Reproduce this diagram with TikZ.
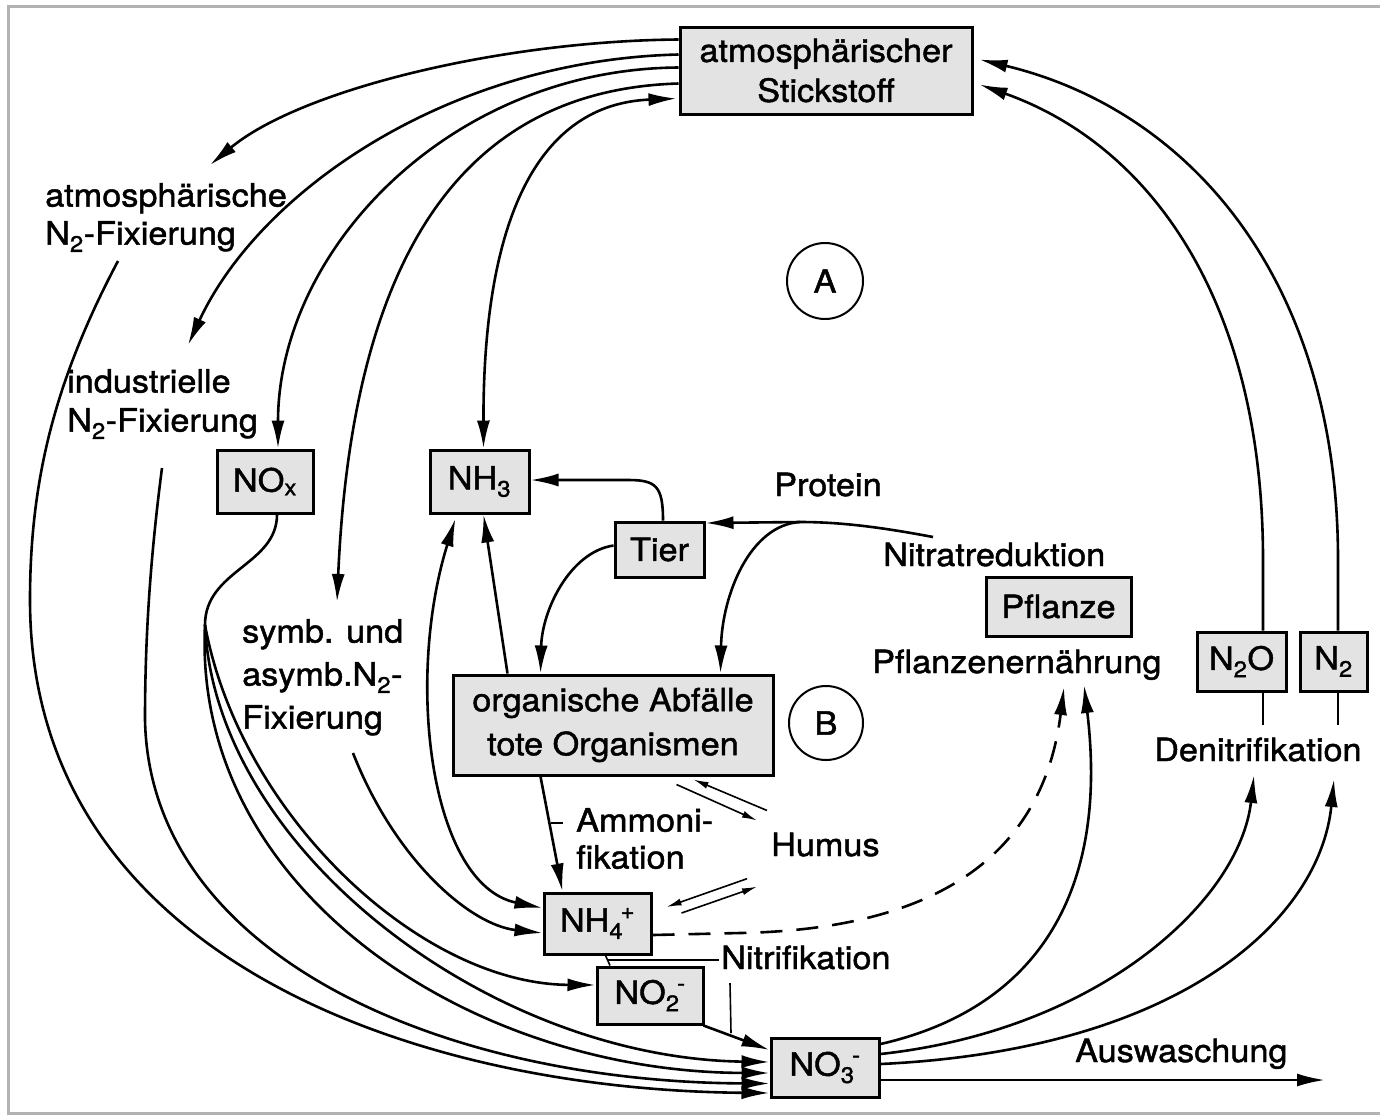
\documentclass[tikz,border=0pt]{standalone}
\usepackage{fontspec}
\setmainfont{TeX Gyre Heros}[FakeStretch=1.07,FakeBold=1.4]
\usetikzlibrary{arrows.meta,calc}
\newcommand{\lfont}{\fontsize{32}{39}\selectfont}
\newcommand{\ionx}[2]{\textsubscript{#1}\kern-0.08em\raisebox{0.12em}{\textsuperscript{#2}}}
\begin{document}
\begin{tikzpicture}[x=1pt,y=-1pt,
  ln/.style={line width=2.6pt},
  arr/.style={ln, -{Latex[length=28pt,width=13pt]}},
  arrb/.style={ln, {Latex[length=28pt,width=13pt]}-{Latex[length=28pt,width=13pt]}},
  thinarr/.style={line width=1.6pt, -{Latex[length=15pt,width=7pt]}},
  thinln/.style={line width=1.6pt},
  box/.style={draw, line width=3pt, fill=gray!22, inner sep=0pt, align=center, font=\lfont},
  lbl/.style={inner sep=0pt, font=\lfont},
  ring/.style={circle, draw, line width=2pt, minimum size=76pt, inner sep=0pt, font=\lfont}]
\useasboundingbox (0,0) rectangle (1380,1117);
\draw[gray!60, line width=3pt] (1380,6) -- (8,6) -- (8,1113) -- (1380,1113);

% boxes
\node[box, minimum width=292pt, minimum height=87pt, font=\fontsize{32}{40}\selectfont] (atm) at (826,70.5) {atmosphärischer\\Stickstoff};
\node[box, minimum width=96pt, minimum height=63pt] (NOx) at (265,481.5) {NO\textsubscript{x}};
\node[box, minimum width=99pt, minimum height=63pt] (NH3) at (479.5,481.5) {NH\textsubscript{3}};
\node[box, minimum width=89pt, minimum height=55pt] (Tier) at (659.5,549.5) {Tier};
\node[box, minimum width=145pt, minimum height=59pt] (Pfl) at (1058.5,606.5) {Pflanze};
\node[box, minimum width=320pt, minimum height=100pt, font=\fontsize{32}{44}\selectfont] (org) at (613,725) {organische Abfälle\\tote Organismen};
\node[box, minimum width=89pt, minimum height=59pt] (N2O) at (1241.5,661.5) {N\textsubscript{2}O};
\node[box, minimum width=67pt, minimum height=59pt] (N2) at (1333.5,661.5) {N\textsubscript{2}};
\node[box, minimum width=107pt, minimum height=61pt] (NH4) at (597.5,923.5) {NH\ionx{4}{+}};
\node[box, minimum width=106pt, minimum height=57pt] (NO2) at (650,995.5) {NO\ionx{2}{-}};
\node[box, minimum width=108pt, minimum height=59pt] (NO3) at (825,1067.5) {NO\ionx{3}{-}};

% circles
\node[ring] (A) at (825,281) {A};
\node[ring, minimum size=74pt] (B) at (826,723) {B};

% labels
\node[lbl, anchor=north west, align=left, font=\fontsize{32}{38}\selectfont] (atmfix) at (45,183) {atmosphärische\\N\textsubscript{2}-Fixierung};
\node[lbl, anchor=north west, align=left] (indfix) at (67,369) {industrielle\\N\textsubscript{2}-Fixierung};
\node[lbl, anchor=north west, align=left, font=\fontsize{32}{43}\selectfont] (symb) at (242,619) {symb. und\\asymb.N\textsubscript{2}-\\Fixierung};
\node[lbl, anchor=base west] (prot) at (774,496) {Protein};
\node[lbl, anchor=base west] (nred) at (883,566) {Nitratreduktion};
\node[lbl, anchor=base west] (pfern) at (872,673) {Pflanzenernährung};
\node[lbl, anchor=north west, align=left, font=\fontsize{32}{37}\selectfont] (ammon) at (576,808) {Ammoni-\\fikation};
\node[lbl, anchor=base west] (humus) at (771,856) {Humus};
\node[lbl, anchor=base west] (nitr) at (721,969) {Nitrifikation};
\node[lbl, anchor=base west] (denitr) at (1154,761) {Denitrifikation};
\node[lbl, anchor=base west] (ausw) at (1075,1062) {Auswaschung};

% free ends
\coordinate (atmtip) at (210,165);
\coordinate (indtip) at (188,345);
\coordinate (symbtip) at (337,602);
\coordinate (atmstart) at (118,261);
\coordinate (indstart) at (162,468);
\coordinate (symbstart) at (353,753);
\coordinate (J) at (205,625);
\coordinate (protstart) at (933,537);
\coordinate (fork) at (800,522);
\coordinate (pftipA) at (1064,687);
\coordinate (pftipB) at (1084,685);
\coordinate (dntipA) at (1254,775);
\coordinate (dntipB) at (1334,779);
\coordinate (auswtip) at (1325,1080);

% from atmospheric nitrogen, left side
\draw[arr] ($(atm.north west)+(0,14)$) .. controls (500,41) and (300,90) .. (atmtip);
\draw[arr] ($(atm.north west)+(0,29)$) .. controls (450,60) and (260,190) .. (indtip);
\draw[arr] ($(atm.north west)+(0,42)$) .. controls (450,69) and (278,250) .. ($(NOx.north)+(13,0)$);
\draw[arr] ($(atm.north west)+(0,58)$) .. controls (460,90) and (352,260) .. (symbtip);
\draw[arrb] ($(NH3.north)+(4,0)$) .. controls (483,215) and (540,104) .. ($(atm.north west)+(-2,73)$);

% right side back to atmosphere
\draw[arr] ($(N2O.north)+(21.5,0)$) -- (1263,560) .. controls (1263,300) and (1150,145) .. ($(atm.north east)+(6,59)$);
\draw[arr] ($(N2.north)+(4.5,0)$) -- (1338,560) .. controls (1338,280) and (1190,110) .. ($(atm.north east)+(6,34)$);
\draw[ln] ($(N2O.south)+(21.5,0)$) -- ++(0,32);
\draw[ln] ($(N2.south)+(4.5,0)$) -- ++(0,32);

% big left arcs into nitrate
\draw[arr] (atmstart) .. controls (55,380) and (30,480) .. (30,600) .. controls (30,960) and (420,1090) .. ($(NO3.west)+(0,25.5)$);
\draw[arr] (indstart) .. controls (150,560) and (145,640) .. (145,720) .. controls (150,960) and (450,1082) .. ($(NO3.west)+(0,16)$);
\draw[ln] ($(NOx.south)+(12,0)$) .. controls (277,565) and (205,570) .. (J);
\draw[arr] (J) .. controls (192,890) and (470,1072) .. ($(NO3.west)+(0,5.5)$);
\draw[arr] (J) .. controls (215,850) and (490,1058) .. ($(NO3.west)+(0,-5.5)$);
\draw[arr] (J) .. controls (240,815) and (420,984) .. ($(NO2.west)+(0,-10.5)$);

% into ammonium
\draw[arr] (symbstart) .. controls (395,860) and (470,925) .. ($(NH4.west)+(0,9.5)$);
\draw[arrb] ($(NH4.west)+(0,-15.5)$) .. controls (430,885) and (405,680) .. ($(NH3.south)+(-24,4)$);
\draw[arr] ($(org.north west)+(56,0)$) -- ($(NH3.south)+(4,0)$);
\draw[arr] ($(Tier.north)+(3.5,0)$) .. controls (663,486) and (656,480) .. (628,480) -- ($(NH3.east)+(0,-1.5)$);

% protein / Tier / organic
\draw[arr] (protstart) .. controls (880,527) and (840,522) .. (fork) -- ($(Tier.east)+(0,-26.5)$);
\draw[arr] (fork) .. controls (750,525) and (722,595) .. ($(org.north west)+(269,0)$);
\draw[arr] ($(Tier.west)+(0,-4)$) .. controls (570,552) and (542,610) .. ($(org.north west)+(89,0)$);

% ammonification
\draw[arr] ($(org.south west)+(89,0)$) -- ($(NH4.north west)+(20,0)$);
\draw[thinln] (551,823) -- ($(ammon.north west)+(-13,15)$);

% humus exchanges
\draw[thinarr] ($(org.south east)+(-98,8)$) -- ($(humus.north west)+(-14,-12)$);
\draw[thinarr] ($(humus.north west)+(-4,-22)$) -- ($(org.south east)+(-81,3)$);
\draw[thinarr] ($(humus.south west)+(-24,22)$) -- ($(NH4.east)+(14,-16.5)$);
\draw[thinarr] ($(NH4.east)+(29,-10.5)$) -- ($(humus.south west)+(-14,30)$);

% nitrification
\draw[thinln] ($(NH4.south)+(8,0)$) -- ($(NO2.north)+(-40,0)$);
\draw[thinln] (608,960) -- ($(nitr.base west)+(-2,-9)$);
\draw[thinln] (730,983) -- (731,1033);
\draw[arr] ($(NO2.south east)+(-1,0)$) -- ($(NO3.west)+(0,-17.5)$);

% plant uptake
\draw[arr, dash pattern=on 22pt off 14pt] ($(NH4.east)+(0,11.5)$) -- (740,933) .. controls (900,930) and (1040,880) .. (pftipA);
\draw[arr] ($(NO3.east)+(0,-23.5)$) .. controls (1030,1010) and (1110,900) .. (pftipB);

% denitrification and leaching
\draw[arr] ($(NO3.east)+(0,-13.5)$) .. controls (1100,1030) and (1240,900) .. (dntipA);
\draw[arr] ($(NO3.east)+(0,-3.5)$) .. controls (1180,1050) and (1320,920) .. (dntipB);
\draw[arr] ($(NO3.east)+(0,12.5)$) -- (auswtip);
\end{tikzpicture}
\end{document}
